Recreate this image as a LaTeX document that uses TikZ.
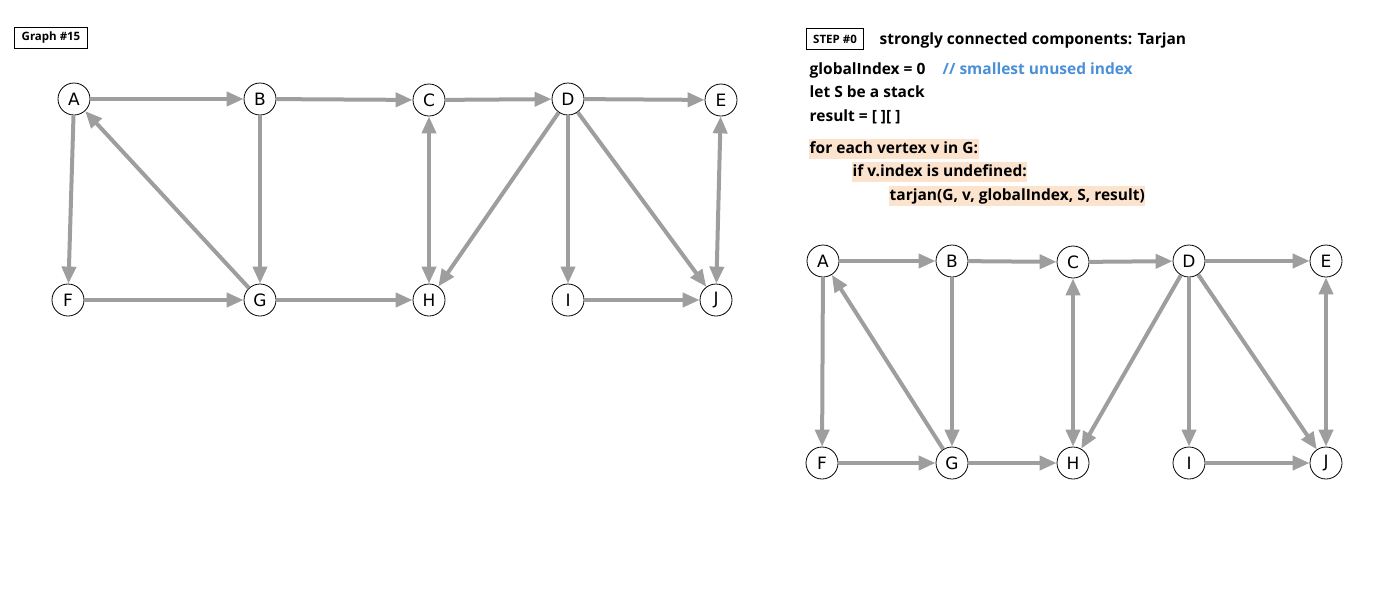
\documentclass[tikz,border=0pt]{standalone}
\usepackage{fontspec}
\setmainfont{Open Sans}
\newfontfamily\vertexfont{DejaVu Sans}
\usetikzlibrary{arrows.meta}
\definecolor{edgegray}{HTML}{9E9E9E}
\definecolor{peach}{HTML}{FBE3CE}
\definecolor{commentblue}{HTML}{4A8FD8}
\tikzset{
  vertex/.style={circle,draw=black,fill=white,line width=0.8pt,
    minimum size=32pt,inner sep=0pt,
    font=\vertexfont\fontsize{17}{17}\selectfont},
  edge/.style={draw=edgegray,line width=4pt,
    -{Triangle[length=17pt,width=14pt]}},
  biedge/.style={edge,
    {Triangle[length=17pt,width=14pt]}-{Triangle[length=17pt,width=14pt]}},
  tag/.style={draw=black,line width=0.8pt,inner xsep=7pt,
    minimum height=21pt,
    font=\bfseries\fontsize{11.5}{11.5}\selectfont},
  code/.style={anchor=west,inner xsep=0.5pt,inner ysep=2pt,
    text height=12pt,text depth=4pt,
    font=\bfseries\fontsize{15.5}{15.5}\selectfont},
  hl/.style={code,fill=peach},
}

\begin{document}
\begin{tikzpicture}[x=1pt,y=-1pt]
\useasboundingbox (0,0) rectangle (1378,590);
% labels
\node[tag] (graphtag) at (51,38) {Graph \#15};
\node[tag] (steptag) at (835,39) {STEP \#0};
\node[code] (title) at (879,40) {strongly connected components: Tarjan};
\node[code] (line1) at (809,70) {globalIndex = 0};
\node[code,text=commentblue] (comment) at (942,70) {// smallest unused index};
\node[code] (line2) at (809,93) {let S be a stack};
\node[code] (line3) at (809,117) {result = [ ][ ]};
\node[hl] (line4) at (809,149) {for each vertex v in G:};
\node[hl] (line5) at (852,172) {if v.index is undefined:};
\node[hl] (line6) at (889,196) {tarjan(G, v, globalIndex, S, result)};
% left graph
\node[vertex] (lA) at (74,99) {A};
\node[vertex] (lB) at (260,99) {B};
\node[vertex] (lC) at (429,100) {C};
\node[vertex] (lD) at (568,99) {D};
\node[vertex] (lE) at (721,100) {E};
\node[vertex] (lF) at (68,300) {F};
\node[vertex] (lG) at (260,300) {G};
\node[vertex] (lH) at (429,300) {H};
\node[vertex] (lI) at (568,300) {I};
\node[vertex] (lJ) at (716,300) {J};
% right graph
\node[vertex] (rA) at (823,261) {A};
\node[vertex] (rB) at (952,261) {B};
\node[vertex] (rC) at (1073,262) {C};
\node[vertex] (rD) at (1189,261) {D};
\node[vertex] (rE) at (1326,261) {E};
\node[vertex] (rF) at (822,463) {F};
\node[vertex] (rG) at (952,463) {G};
\node[vertex] (rH) at (1073,463) {H};
\node[vertex] (rI) at (1189,463) {I};
\node[vertex] (rJ) at (1326,463) {J};
% edges
\foreach \g in {l,r}{
  \foreach \s/\t in {A/B,B/C,C/D,D/E,A/F,G/A,B/G,F/G,G/H,D/H,D/I,D/J,I/J}
    \draw[edge] (\g\s) -- (\g\t);
  \draw[biedge] (\g C) -- (\g H);
  \draw[biedge] (\g E) -- (\g J);
}
\end{tikzpicture}
\end{document}
